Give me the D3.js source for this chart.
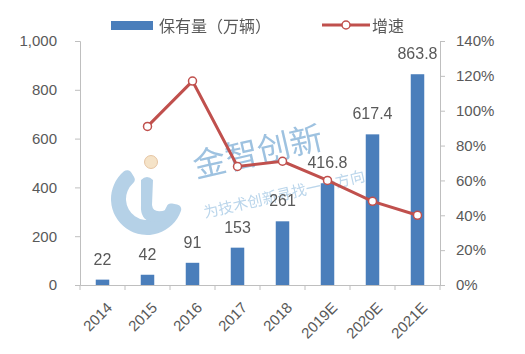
<!DOCTYPE html>
<html>
<head>
<meta charset="utf-8">
<script src="https://cdn.jsdelivr.net/npm/d3@7"></script>
<style>
  body { margin: 0; background: #fff; }
  svg text { font-family: "Liberation Sans", "Noto Sans CJK SC", sans-serif; fill: #595959; }
</style>
</head>
<body>
<svg id="chart" width="525" height="354"></svg>
<script>
// data
const years = ["2014", "2015", "2016", "2017", "2018", "2019E", "2020E", "2021E"];
const stock = [22, 42, 91, 153, 261, 416.8, 617.4, 863.8];      // 保有量（万辆）
const growth = [null, 0.91, 1.17, 0.68, 0.71, 0.60, 0.48, 0.40]; // 增速
const leftTicks = [0, 200, 400, 600, 800, 1000];
const rightTicks = [0, 0.2, 0.4, 0.6, 0.8, 1.0, 1.2, 1.4];

const svg = d3.select("#chart");
const plotLeft = 80, plotRight = 440, plotTop = 41, plotBottom = 285;

const x = d3.scaleBand().domain(years).range([plotLeft, plotRight]).paddingInner(0.7).paddingOuter(0.35);
const yL = d3.scaleLinear().domain([0, 1000]).range([plotBottom, plotTop]);
const yR = d3.scaleLinear().domain([0, 1.4]).range([plotBottom, plotTop]);
const cx = d => x(d) + x.bandwidth() / 2;

// watermark
const wm = svg.append("g").attr("opacity", 0.8);
wm.append("path")
    .attr("transform", "translate(147,199)")
    .attr("d", d3.arc().innerRadius(21).outerRadius(36).startAngle(1.75).endAngle(5.75).cornerRadius(5)())
    .attr("fill", "#a3c6e2");
wm.append("path")
    .attr("d", "M141,180 Q147,174 153,180 L152,205 Q153,214 166,210 L178,205 Q170,222 152,222 Q140,220 141,205 Z")
    .attr("fill", "#a3c6e2");
wm.append("circle").attr("cx", 151).attr("cy", 162).attr("r", 6.5)
    .attr("fill", "#f3dcbb").attr("stroke", "#d8a877").attr("stroke-width", 0.8);
wm.append("text").attr("x", 196).attr("y", 178).attr("transform", "rotate(-13,196,178)")
    .style("font-family", "Noto Sans CJK SC").style("font-size", "33px").style("fill", "#86b3d9")
    .text("金智创新");
wm.append("text").attr("x", 205).attr("y", 218).attr("transform", "rotate(-13,205,218)")
    .style("font-family", "Noto Sans CJK SC").style("font-size", "15px").style("fill", "#a9cbe6")
    .text("为技术创新寻找一个方向");

// axes
const axisColor = "#bfbfbf";
const gL = svg.append("g").attr("transform", `translate(${plotLeft},0)`)
    .call(d3.axisLeft(yL).tickValues(leftTicks).tickSize(5).tickPadding(18).tickFormat(d3.format(",")));
const gR = svg.append("g").attr("transform", `translate(${plotRight},0)`)
    .call(d3.axisRight(yR).tickValues(rightTicks).tickSize(5).tickPadding(11).tickFormat(d3.format(".0%")));
const gX = svg.append("g").attr("transform", `translate(0,${plotBottom})`)
    .call(d3.axisBottom(x).tickSize(0));

[gL, gR, gX].forEach(g => {
    g.select(".domain").attr("stroke", axisColor);
    g.selectAll(".tick line").attr("stroke", axisColor);
    g.selectAll("text").style("font-size", "15px").attr("fill", "#595959");
});

// category separator ticks on the bottom axis
gX.selectAll(".sep")
    .data(d3.range(years.length + 1))
    .enter().append("line")
    .attr("x1", i => plotLeft + i * x.step()).attr("x2", i => plotLeft + i * x.step())
    .attr("y1", 0).attr("y2", 5)
    .attr("stroke", axisColor);

gX.selectAll(".tick text")
    .attr("x", 0).attr("y", 0)
    .attr("dy", "0.35em")
    .attr("text-anchor", "end")
    .attr("transform", "translate(7,20) rotate(-45)");

// bars
svg.selectAll(".bar")
    .data(years)
    .enter().append("rect")
    .attr("class", "bar")
    .attr("x", d => x(d))
    .attr("width", x.bandwidth())
    .attr("y", (d, i) => yL(stock[i]))
    .attr("height", (d, i) => plotBottom - yL(stock[i]))
    .attr("fill", "#4a7ebb");

// bar labels
svg.selectAll(".blabel")
    .data(years)
    .enter().append("text")
    .attr("x", cx)
    .attr("y", (d, i) => yL(stock[i]) - 15)
    .attr("text-anchor", "middle")
    .style("font-size", "16px")
    .text((d, i) => stock[i]);

// growth line
const pts = years.map((d, i) => ({ year: d, v: growth[i] })).filter(p => p.v !== null);
svg.append("path")
    .datum(pts)
    .attr("fill", "none")
    .attr("stroke", "#c0504d")
    .attr("stroke-width", 3)
    .attr("d", d3.line().x(p => cx(p.year)).y(p => yR(p.v)));
svg.selectAll(".dot")
    .data(pts)
    .enter().append("circle")
    .attr("cx", p => cx(p.year))
    .attr("cy", p => yR(p.v))
    .attr("r", 4)
    .attr("fill", "#fff")
    .attr("stroke", "#c0504d")
    .attr("stroke-width", 1.5);

// legend
const lg = svg.append("g");
lg.append("rect").attr("x", 111).attr("y", 21).attr("width", 42).attr("height", 9).attr("fill", "#4a7ebb");
lg.append("text").attr("x", 159).attr("y", 32).style("font-size", "16px")
    .style("font-family", "Noto Sans CJK SC").text("保有量（万辆）");
lg.append("line").attr("x1", 322).attr("x2", 370).attr("y1", 25).attr("y2", 25)
    .attr("stroke", "#c0504d").attr("stroke-width", 3);
lg.append("circle").attr("cx", 346).attr("cy", 25).attr("r", 4)
    .attr("fill", "#fff").attr("stroke", "#c0504d").attr("stroke-width", 1.5);
lg.append("text").attr("x", 372).attr("y", 32).style("font-size", "16px")
    .style("font-family", "Noto Sans CJK SC").text("增速");
</script>
</body>
</html>
